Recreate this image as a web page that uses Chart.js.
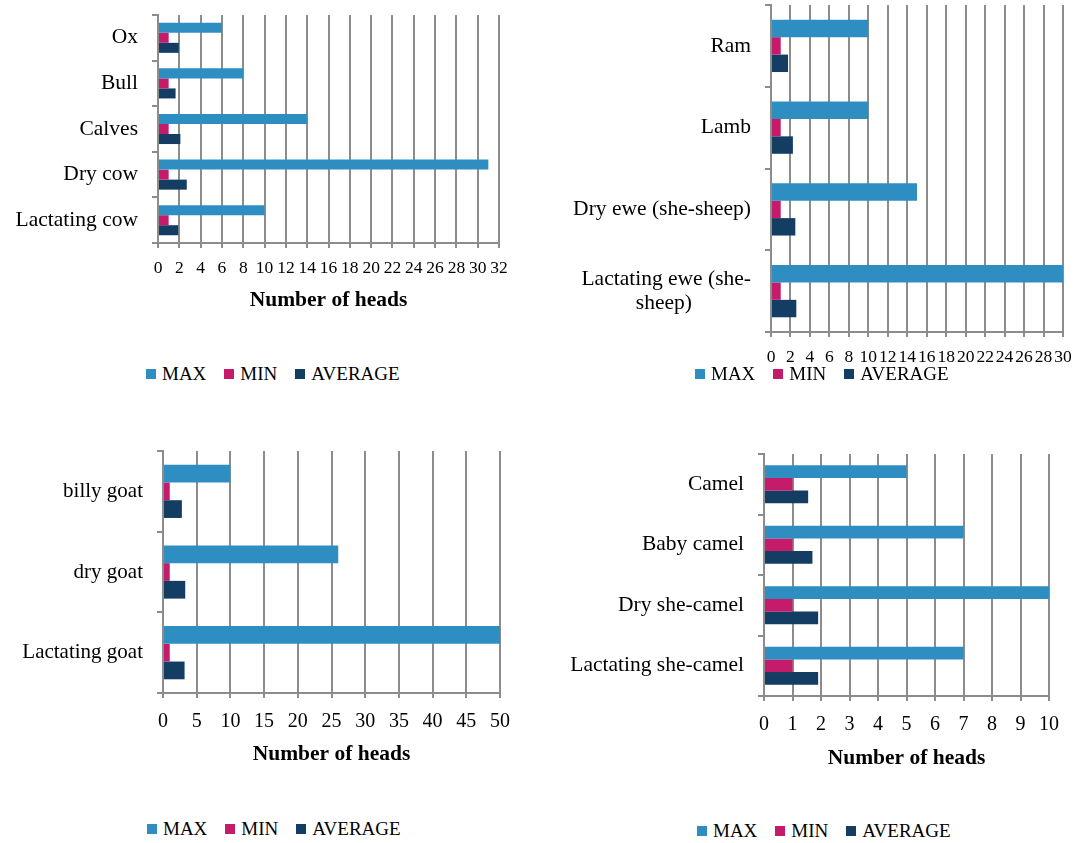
<!DOCTYPE html>
<html>
<head>
<meta charset="utf-8">
<title>Number of heads</title>
<script src="https://cdn.jsdelivr.net/npm/chart.js@4.4.1/dist/chart.umd.min.js"></script>
<style>
  body { margin: 0; background: #fff; width: 1084px; height: 843px; position: relative; overflow: hidden; }
  canvas { position: absolute; }
  .legend { position: absolute; display: flex; align-items: center; height: 20px; line-height: 20px;
            font-family: 'Liberation Serif', serif; font-size: 19px; color: #000; white-space: nowrap; }
  .legend .item { display: flex; align-items: center; margin-right: 18px; }
  .legend .item i { display: inline-block; width: 10px; height: 10px; margin-right: 6px; }
</style>
</head>
<body>
<canvas id="cattleChart" width="546" height="330" style="left:0;top:0"></canvas>
<canvas id="sheepChart" width="538" height="365" style="left:546px;top:0"></canvas>
<canvas id="goatChart" width="546" height="350" style="left:0;top:420px"></canvas>
<canvas id="camelChart" width="538" height="355" style="left:546px;top:420px"></canvas>
<script>
const seriesNames = ['MAX', 'MIN', 'AVERAGE'];
const seriesColors = ['#2e8ec2', '#c51b6b', '#133d63'];
const gridColor = '#8c8c8c';

// cattle
const cattleLabels = ['Ox', 'Bull', 'Calves', 'Dry cow', 'Lactating cow'];
const cattleMax = [6, 8, 14, 31, 10];
const cattleMin = [1, 1, 1, 1, 1];
const cattleAvg = [1.95, 1.65, 2.1, 2.7, 1.9];

// sheep
const sheepLabels = ['Ram', 'Lamb', 'Dry ewe (she-sheep)', ['Lactating ewe (she-', 'sheep)']];
const sheepMax = [10, 10, 15, 30];
const sheepMin = [1, 1, 1, 1];
const sheepAvg = [1.75, 2.25, 2.5, 2.6];

// goats
const goatLabels = ['billy goat', 'dry goat', 'Lactating goat'];
const goatMax = [10, 26, 50];
const goatMin = [1, 1, 1];
const goatAvg = [2.8, 3.3, 3.2];

// camels
const camelLabels = ['Camel', 'Baby camel', 'Dry she-camel', 'Lactating she-camel'];
const camelMax = [5, 7, 10, 7];
const camelMin = [1, 1, 1, 1];
const camelAvg = [1.55, 1.7, 1.9, 1.9];

Chart.defaults.font.family = "'Liberation Serif', serif";
Chart.defaults.color = '#000';

function makeDatasets(maxVals, minVals, avgVals) {
    return [maxVals, minVals, avgVals].map((vals, i) => ({
        label: seriesNames[i],
        data: vals,
        backgroundColor: seriesColors[i],
        borderWidth: 0,
        barPercentage: 1
    }));
}

function makeChart(id, labels, datasets, o) {
    const ctx = document.getElementById(id).getContext('2d');
    return new Chart(ctx, {
        type: 'bar',
        data: { labels: labels, datasets: datasets },
        options: {
            indexAxis: 'y',
            responsive: false,
            animation: false,
            layout: { padding: { top: o.top, right: o.right, left: 0, bottom: 0 } },
            datasets: { bar: { categoryPercentage: o.catPct, barPercentage: 1 } },
            plugins: { legend: { display: false }, tooltip: { enabled: false } },
            scales: {
                x: {
                    min: 0,
                    max: o.max,
                    border: { color: gridColor, width: 2 },
                    grid: { color: gridColor, lineWidth: 2, tickLength: 5 },
                    ticks: { stepSize: o.step, autoSkip: false, maxRotation: 0, padding: o.tickPad, font: { size: o.tickSize } },
                    title: {
                        display: o.title,
                        text: 'Number of heads',
                        font: { size: 21.5, weight: 'bold' },
                        padding: { top: 0, bottom: o.titlePad || 0 }
                    },
                    afterFit: s => { s.height = o.xHeight; s.paddingLeft = 0; s.paddingRight = 0; }
                },
                y: {
                    border: { color: gridColor, width: 2 },
                    grid: { drawOnChartArea: false, color: gridColor, lineWidth: 2, tickLength: 6 },
                    ticks: {
                        autoSkip: false,
                        padding: 14,
                        font: { size: o.catSize, lineHeight: 1.1 },
                        callback: function(value) {
                            const label = this.getLabelForValue(value);
                            // second line of the wrapped label sits centred under the first
                            if (Array.isArray(label)) return [label[0], label[1] + ' '.repeat(11)];
                            return label;
                        }
                    },
                    afterFit: s => { s.width = o.yWidth; s.paddingTop = 0; s.paddingBottom = 0; }
                }
            }
        }
    });
}

function addLegend(chart, left, top) {
    const box = document.createElement('div');
    box.className = 'legend';
    box.style.left = left + 'px';
    box.style.top = top + 'px';
    chart.data.datasets.forEach(ds => {
        const item = document.createElement('span');
        item.className = 'item';
        const sw = document.createElement('i');
        sw.style.background = ds.backgroundColor;
        item.appendChild(sw);
        item.appendChild(document.createTextNode(ds.label));
        box.appendChild(item);
    });
    document.body.appendChild(box);
}

const cattleChart = makeChart('cattleChart', cattleLabels, makeDatasets(cattleMax, cattleMin, cattleAvg), {
    top: 15, right: 47, yWidth: 158, xHeight: 87, max: 32, step: 2,
    tickSize: 17.5, tickPad: 9.5, catSize: 21.5, catPct: 0.66, title: true, titlePad: 17
});
const sheepChart = makeChart('sheepChart', sheepLabels, makeDatasets(sheepMax, sheepMin, sheepAvg), {
    top: 5, right: 21, yWidth: 225, xHeight: 33, max: 30, step: 2,
    tickSize: 17.5, tickPad: 9.5, catSize: 21.5, catPct: 0.64, title: false
});
const goatChart = makeChart('goatChart', goatLabels, makeDatasets(goatMax, goatMin, goatAvg), {
    top: 31, right: 46, yWidth: 163, xHeight: 77, max: 50, step: 5,
    tickSize: 20, tickPad: 12, catSize: 21, catPct: 0.66, title: true, titlePad: 3
});
const camelChart = makeChart('camelChart', camelLabels, makeDatasets(camelMax, camelMin, camelAvg), {
    top: 34, right: 35, yWidth: 218, xHeight: 79, max: 10, step: 1,
    tickSize: 20, tickPad: 12, catSize: 21.5, catPct: 0.63, title: true, titlePad: 4
});

addLegend(cattleChart, 146, 364);
addLegend(sheepChart, 695, 364);
addLegend(goatChart, 147, 819);
addLegend(camelChart, 697, 821);
</script>
</body>
</html>
